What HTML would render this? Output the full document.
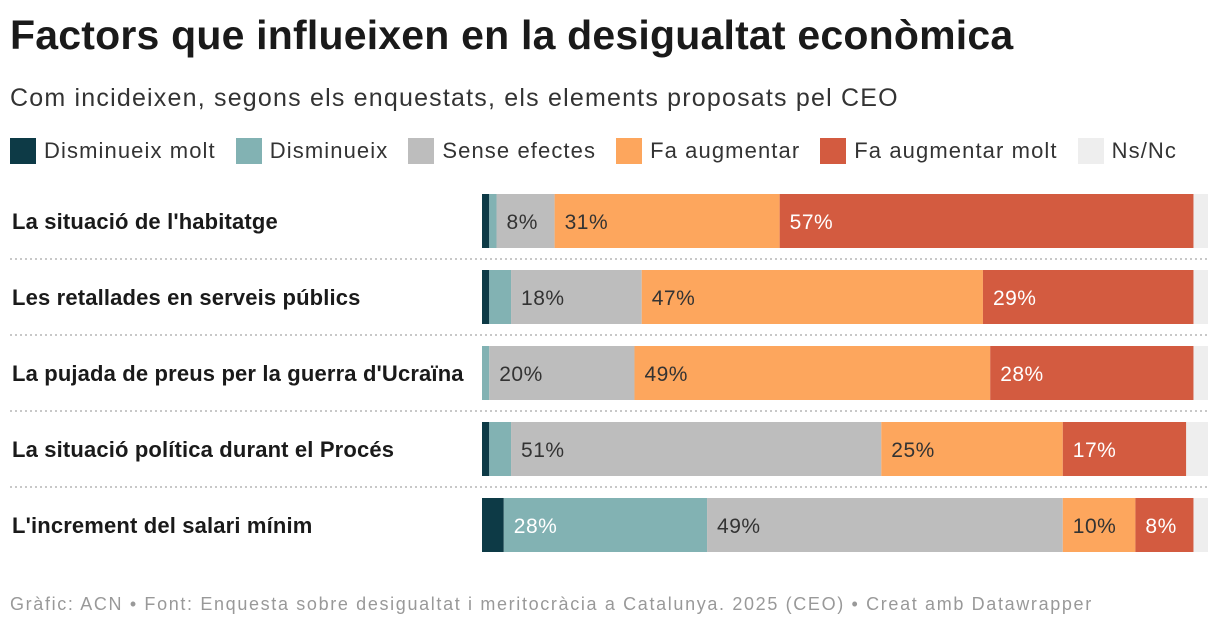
<!DOCTYPE html>
<html><head><meta charset="utf-8"><style>
body{margin:0;width:1220px;height:628px;background:#fff;font-family:"Liberation Sans",sans-serif;overflow:hidden;position:relative}
h1{position:absolute;left:10px;top:12px;margin:0;font-size:41px;font-weight:bold;color:#1a1a1a;letter-spacing:0.2px}
.sub{position:absolute;left:10px;top:84px;font-size:25px;color:#333;letter-spacing:1.2px}
.legend{position:absolute;left:10px;top:138px;font-size:22px;color:#333;display:flex;letter-spacing:1.1px}
.li{display:flex;align-items:center;margin-right:20px}
.sw{width:26px;height:26px;margin-right:8px}
.foot{position:absolute;left:10px;top:594px;font-size:18px;color:#999;letter-spacing:1.65px}
</style></head><body>
<h1>Factors que influeixen en la desigualtat econòmica</h1>
<div class="sub">Com incideixen, segons els enquestats, els elements proposats pel CEO</div>
<div class="legend" id="legend"></div>
<svg id="chart" width="1220" height="628" style="position:absolute;left:0;top:0"></svg>
<div class="foot">Gràfic: ACN • Font: Enquesta sobre desigualtat i meritocràcia a Catalunya. 2025 (CEO) • Creat amb Datawrapper</div>
<script>
const categories=["La situació de l'habitatge","Les retallades en serveis públics","La pujada de preus per la guerra d'Ucraïna","La situació política durant el Procés","L'increment del salari mínim"];
const seriesNames=["Disminueix molt","Disminueix","Sense efectes","Fa augmentar","Fa augmentar molt","Ns/Nc"];
const dismMolt=[1,1,0,1,3];
const dism=[1,3,1,3,28];
const sense=[8,18,20,51,49];
const augm=[31,47,49,25,10];
const augmMolt=[57,29,28,17,8];
const nsnc=[2,2,2,3,2];
const colors=["#0d3a46","#82b2b3","#bdbdbd","#fda65d","#d35b40","#eeeeee"];
const textColors=["#fff","#fff","#333","#333","#fff","#333"];
const series=[dismMolt,dism,sense,augm,augmMolt,nsnc];
const NS="http://www.w3.org/2000/svg";
const svg=document.getElementById('chart');
const x0=482,x1=1208,rowTop=194,rowStep=76,barH=54;
const leg=document.getElementById('legend');
seriesNames.forEach((n,i)=>{
  const d=document.createElement('div');d.className='li';
  
  
  d.innerHTML='<div class="sw" style="background:'+colors[i]+'"></div>'+n;
  leg.appendChild(d);
});
function mk(t,a){const e=document.createElementNS(NS,t);for(const k in a)e.setAttribute(k,a[k]);svg.appendChild(e);return e;}
categories.forEach((c,r)=>{
  const y=rowTop+r*rowStep;
  const lab=mk('text',{x:12,y:y+barH/2+8,'font-size':22,'font-weight':'bold',fill:'#1a1a1a','letter-spacing':0.15});
  lab.textContent=c;
  
  
  let total=0;series.forEach(s=>total+=s[r]);
  const sc=v=>v/total*(x1-x0);
  let cx=x0;
  series.forEach((s,i)=>{
    const v=s[r];const w=sc(v);
    const rect=mk('rect',{x:cx,y:y,width:w,height:barH,fill:colors[i]});
    
    
    if(v>=8){
      const t=mk('text',{x:cx+10,y:y+barH/2+8,'font-size':21,fill:textColors[i],'letter-spacing':0.5});
      t.textContent=v+'%';
      
      
    }
    cx+=w;
  });
  if(r<categories.length-1){
    const l=mk('line',{x1:10,x2:1208,y1:y+barH+11,y2:y+barH+11,stroke:'#c8c8c8','stroke-width':2,'stroke-dasharray':'2,3'});
    
    
  }
});
</script>
</body></html>
